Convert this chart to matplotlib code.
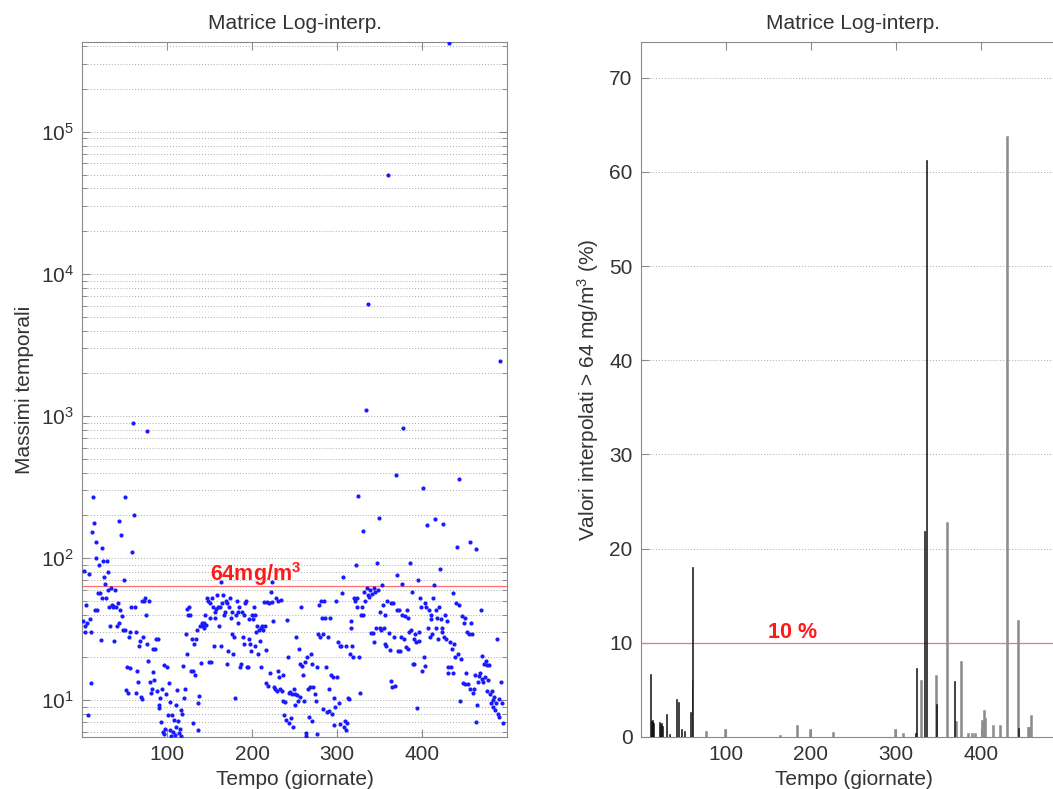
import matplotlib.pyplot as plt
import numpy as np
from matplotlib.ticker import FixedLocator, LogLocator, NullFormatter

plt.rcParams["font.family"] = ["Liberation Sans", "DejaVu Sans"]
plt.rcParams["mathtext.fontset"] = "custom"
plt.rcParams["mathtext.rm"] = "Liberation Sans"
plt.rcParams["mathtext.bf"] = "Liberation Sans:bold"
plt.rcParams["mathtext.default"] = "regular"

# daily maxima (one per day)
DAYS = np.arange(1, 496)
MAXIMA = [
    36, 81, 33, 30, 47, 35, 7.8, 77, 37, 30,
    13.2, 153, 270, 177, 43, 130, 100, 43, 57, 90,
    57, 26.5, 118, 52, 95, 74, 66, 52, 95, 60,
    80, 45, 33, 62, 47, 45, 46, 26, 60, 45,
    33, 48, 35, 183, 43, 145, 39, 31, 70, 31,
    270, 11.8, 17.2, 11.2, 28, 16.7, 30, 45, 110, 890,
    200, 45, 11.3, 30, 16, 13.5, 24, 26, 10.5, 50,
    10.2, 28, 50, 52, 40, 790, 25, 18.8, 50, 13.5,
    11.2, 12, 15.7, 23, 13.8, 23, 27, 11.6, 27, 9.2,
    8.8, 10.3, 7.0, 12, 6.0, 17.8, 5.8, 6.3, 11, 17,
    7.9, 13.2, 9.7, 6.2, 5.6, 7.9, 6.0, 7.3, 5.7, 9.2,
    6.5, 11.7, 7.1, 5.9, 6.3, 5.6, 8.5, 8.0, 17.5, 10.3,
    12, 29, 21, 44, 40, 45, 40, 16, 27, 6.9,
    16, 25, 15, 27, 31, 6.2, 9.5, 10.7, 33, 18.3,
    35, 33, 32, 35, 40, 34, 52, 50, 18.5, 48,
    38, 18.5, 52, 45, 24, 38, 42, 44, 55, 45,
    33, 45, 24, 68, 48, 55, 40, 42, 50, 18,
    48, 22, 45, 52, 38, 29, 42, 21, 28, 10.4,
    40, 50, 35, 42, 45, 17, 18, 42, 28, 40,
    25, 48, 50, 17, 17, 37, 27, 25, 22, 40,
    37, 45, 40, 24, 30, 33, 21, 31, 26, 32,
    17, 33, 31, 49, 33, 22.5, 13.3, 49, 12.5, 48,
    15.5, 58, 68, 49, 36, 12.3, 12, 52, 11.6, 16,
    50, 14.5, 12, 51, 11.6, 9.8, 15, 7.8, 9.7, 7.2,
    36.6, 20, 11.3, 6.9, 11.5, 7.5, 11, 6.5, 12, 9.3,
    11, 28, 10.8, 9.9, 23, 18, 10.5, 45, 17.5, 15,
    9.8, 18.5, 5.6, 5.9, 20, 12, 7.6, 12.3, 21, 7.1,
    18, 12.3, 5.0, 11, 9.9, 17, 5.8, 29, 47, 28,
    50, 38, 29, 8.6, 50, 38, 17, 8.2, 28, 8.4,
    12, 38, 15, 8.0, 14.5, 6.7, 10.4, 9.0, 50, 14.5,
    25.5, 9.5, 24, 6.8, 24, 57, 74, 6.5, 7.1, 6.2,
    24, 6.9, 10.4, 10.2, 21, 32, 36, 24, 20, 52,
    50, 89, 52, 45, 275, 20, 11.3, 40, 45, 155,
    40, 58, 50, 1100, 62, 6120, 55, 53, 60, 29.5,
    56, 29.5, 62, 25.5, 58, 32, 92, 60, 192, 32,
    42, 31, 65, 47, 32, 25, 40, 24, 50, 49800,
    29.5, 22.5, 48, 13.6, 12.3, 48, 28, 12.5, 385, 43,
    76, 22, 43, 22, 28, 40, 66, 820, 27, 39,
    23.6, 43, 38, 23, 30, 92, 31, 58, 18, 27,
    18, 29, 25.5, 8.8, 70, 30, 26, 52, 45, 16,
    310, 20, 48, 17.5, 45, 170, 32, 43, 28, 40,
    37, 29, 52, 65, 187, 43, 32, 38, 27, 45,
    84, 37, 30, 32, 175, 28, 40, 27, 36, 17,
    15.6, 420000, 25.5, 17, 23, 15.6, 57, 25, 20, 48,
    120, 21, 47, 360, 9.8, 19.5, 39, 13.2, 35, 13,
    38, 15.4, 30, 13, 29, 12, 130, 35, 29, 11.3,
    12, 15, 116, 7, 9.3, 13.5, 14.8, 15.4, 43, 14,
    20.5, 13.5, 18, 14.5, 19, 17.8, 11.6, 13.8, 17.8, 11,
    9.6, 11.6, 10, 9.0, 10.5, 8.5, 9.6, 27, 8, 10.2,
    7.6, 2440, 13.5, 9.5, 6.9,
]

THRESHOLD = 64  # mg/m3
PCT_LIMIT = 10  # %

# percentage of interpolated values above threshold (right panel)
BLACK_DAYS = [11, 12, 13, 14, 15, 22, 23, 24, 25, 30, 34, 42, 44, 48, 51, 58, 60, 61,
              323, 324, 334, 336, 348, 369, 444]
BLACK_PCT = [6.7, 1.7, 1.8, 1.6, 1.5, 1.6, 1.4, 1.5, 1.2, 2.4, 0.3, 4.0, 3.7, 0.9, 0.6, 2.7, 6.1, 18.1,
             0.4, 7.3, 21.9, 61.3, 3.5, 5.9, 1.0]
GRAY_DAYS = [76, 99, 164, 184, 199, 226, 299, 308, 329, 347, 360, 371, 377, 385, 389, 393,
             401, 403, 405, 414, 422, 431, 444, 455, 457, 459]
GRAY_PCT = [0.6, 0.8, 0.2, 1.3, 0.9, 0.5, 0.8, 0.4, 6.0, 6.6, 22.8, 1.7, 8.1, 0.4, 0.4, 0.4,
            1.8, 2.9, 2.0, 1.3, 1.3, 63.8, 12.4, 1.1, 1.1, 2.3]

TEXT = "#333333"
FRAME = "#8a8a8a"
GRID = "#a8a8a8"
FS = 15


def style_axes(ax):
    for sp in ax.spines.values():
        sp.set_color(FRAME)
        sp.set_linewidth(0.8)
    ax.tick_params(which="both", direction="in", top=True, right=True,
                   colors=FRAME, labelcolor=TEXT, labelsize=FS, pad=6)
    ax.tick_params(which="major", length=6, width=0.8)
    ax.tick_params(which="minor", length=3.5, width=0.7)
    ax.set_title("Matrice Log-interp.", fontsize=FS, color=TEXT, pad=9)
    ax.set_xlabel("Tempo (giornate)", fontsize=FS, color=TEXT, labelpad=4)
    ax.set_xlim(0, 500)
    ax.xaxis.set_major_locator(FixedLocator([100, 200, 300, 400]))


fig = plt.figure(figsize=(10.53, 7.89), dpi=100)
ax1 = fig.add_axes([82 / 1053, 1 - 737 / 789, 425 / 1053, 695 / 789])
ax2 = fig.add_axes([641 / 1053, 1 - 737 / 789, 425 / 1053, 695 / 789])

# left: temporal maxima on log scale
ax1.plot(DAYS, MAXIMA, linestyle="none", marker="o", ms=3.0,
         color="#1a1aff", mec="none", zorder=3)
ax1.set_yscale("log")
ax1.set_ylim(5.5, 4.3e5)
ax1.yaxis.set_major_locator(LogLocator(base=10, numticks=20))
ax1.yaxis.set_minor_locator(LogLocator(base=10, subs=np.arange(2, 10), numticks=100))
ax1.yaxis.set_minor_formatter(NullFormatter())
ax1.grid(True, which="both", axis="y", linestyle=(0, (1, 2)), color=GRID, lw=0.7)
ax1.axhline(THRESHOLD, color="#ff6f6f", lw=0.9, zorder=2)
ax1.text(150, 69.5, "64mg/m$^\\mathbf{3}$", color="#ff1a1a", fontweight="bold",
         fontsize=15.5, ha="left", va="baseline")
style_axes(ax1)
ax1.set_ylabel("Massimi temporali", fontsize=FS, color=TEXT)
ax1.yaxis.set_label_coords(-0.113, 0.5)

# right: percentage of interpolated values over the threshold
ax2.bar(GRAY_DAYS, GRAY_PCT, width=2.4, color="#8c8c8c", edgecolor="#8c8c8c", lw=0.4, zorder=3)
ax2.bar(BLACK_DAYS, BLACK_PCT, width=1.1, color="#111111", edgecolor="#111111", lw=0.4, zorder=4)
ax2.set_ylim(0, 73.8)
ax2.yaxis.set_major_locator(FixedLocator(np.arange(0, 80, 10)))
ax2.grid(True, axis="y", linestyle=(0, (1, 2)), color=GRID, lw=0.7)
ax2.axhline(PCT_LIMIT, color="#ff6f6f", lw=0.9, zorder=2)
ax2.text(150, 10.5, "10 %", color="#ff1a1a", fontweight="bold",
         fontsize=15.5, ha="left", va="baseline")
style_axes(ax2)
ax2.set_ylabel("Valori interpolati > 64 mg/m$^3$ (%)", fontsize=FS, color=TEXT)
ax2.yaxis.set_label_coords(-0.094, 0.5)

fig.savefig("out.png", dpi=100)
